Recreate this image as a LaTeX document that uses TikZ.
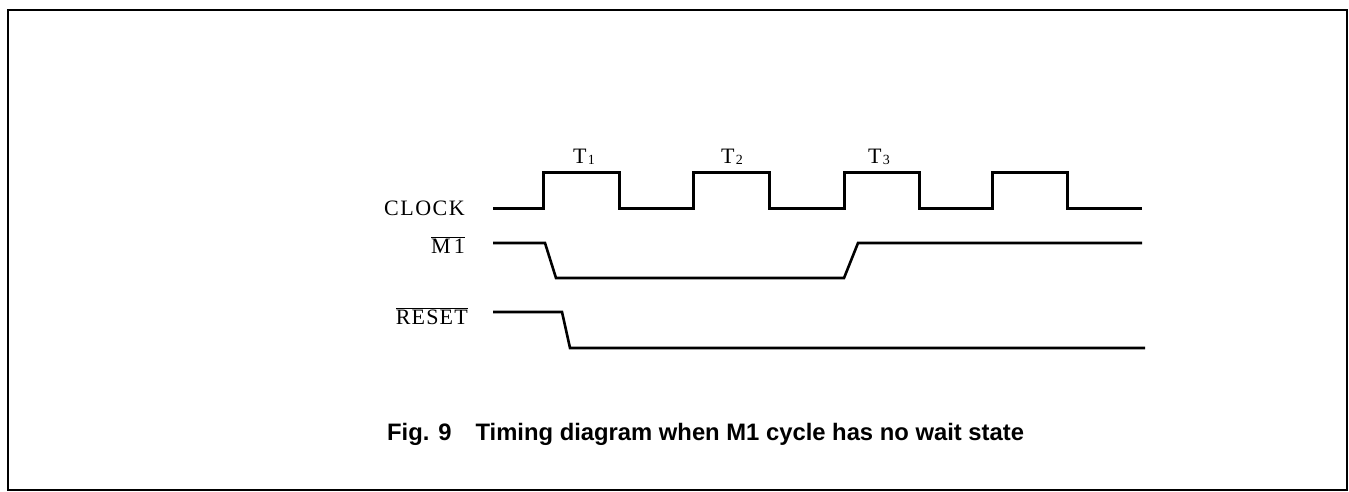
\documentclass[tikz,border=0pt]{standalone}
\usepackage{fontspec}
\setmainfont{Liberation Serif}
\newfontfamily\capfont{Liberation Sans}
\begin{document}
\begin{tikzpicture}[x=1pt,y=-1pt,
  wave/.style={line width=3pt,line join=miter},
  sig/.style={font=\fontsize{22}{22}\selectfont,anchor=east,inner sep=0pt},
  tlab/.style={font=\fontsize{22}{22}\selectfont,inner sep=0pt},
  frame/.style={line width=1.8pt}]
\useasboundingbox (0,0) rectangle (1349,492);
\draw[frame] (8,10) rectangle (1347,490);
% labels
\node[sig] (clk) at (465,208) {C\kern1.5ptL\kern1.5ptO\kern1.5ptC\kern1.5ptK};
\node[sig] (m1) at (465,245) {$\overline{\mbox{M\kern3pt1}}$};
\node[sig] (rst) at (468,316) {$\overline{\mbox{R\kern1.2ptE\kern1.2ptS\kern1.2ptE\kern1.2ptT}}$};
\node[tlab] (t1) at (584,157) {T\kern1.5pt\raisebox{-1pt}{\fontsize{14}{14}\selectfont 1}};
\node[tlab] (t2) at (732,157) {T\kern1.5pt\raisebox{-1pt}{\fontsize{14}{14}\selectfont 2}};
\node[tlab] (t3) at (879,157) {T\kern1.5pt\raisebox{-1pt}{\fontsize{14}{14}\selectfont 3}};
% clock
\draw[wave] (493,208) -- (543,208) -- (543,172) -- (619,172) -- (619,208)
  -- (693,208) -- (693,172) -- (769,172) -- (769,208)
  -- (844,208) -- (844,172) -- (919,172) -- (919,208)
  -- (992,208) -- (992,172) -- (1067,172) -- (1067,208) -- (1142,208);
% M1
\draw[wave,line width=2.6pt] (493,243) -- (545,243) -- (556,278) -- (844,278) -- (858,243) -- (1142,243);
% RESET
\draw[wave,line width=2.6pt] (493,312) -- (562,312) -- (570,348) -- (1145,348);
% caption
\node[font=\capfont\bfseries\fontsize{23.8}{24}\selectfont,anchor=west,inner sep=0pt] (cap) at (387,434)
  {Fig. 9\hspace{24pt}Timing diagram when M1 cycle has no wait state};
\end{tikzpicture}
\end{document}
